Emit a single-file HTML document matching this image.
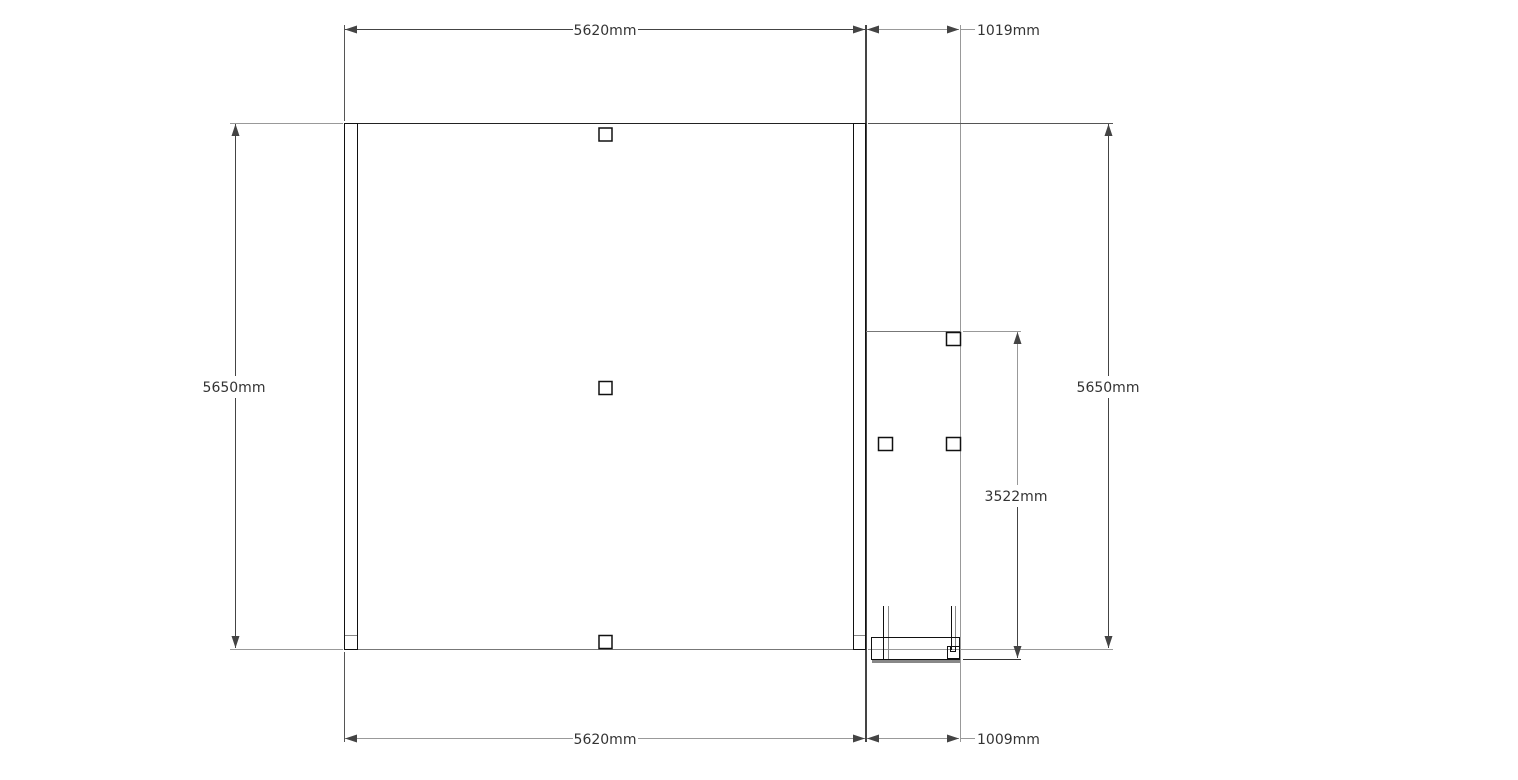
<!DOCTYPE html>
<html><head><meta charset="utf-8"><style>
html,body{margin:0;padding:0;background:#fff;width:1518px;height:780px;overflow:hidden}
text{font-family:"DejaVu Sans","Liberation Sans",sans-serif;font-size:14px;fill:#333}
</style></head><body>
<svg width="1518" height="780" xmlns="http://www.w3.org/2000/svg">
<defs>
<marker id="a" markerWidth="12" markerHeight="8" refX="12" refY="4" orient="auto-start-reverse" markerUnits="userSpaceOnUse"><path d="M0,0 L12,4 L0,8 z" fill="#444"/></marker>
</defs>
<g fill="none" stroke-width="1">
<!-- extension lines -->
<line x1="344.5" y1="25" x2="344.5" y2="121" stroke="#555"/>
<line x1="344.5" y1="652" x2="344.5" y2="742" stroke="#555"/>
<line x1="866" y1="25" x2="866" y2="742" stroke="#444" stroke-width="2"/>
<line x1="960.5" y1="25" x2="960.5" y2="742" stroke="#999"/>
<line x1="230" y1="123.5" x2="343" y2="123.5" stroke="#999"/>
<line x1="230" y1="649.5" x2="343" y2="649.5" stroke="#999"/>
<line x1="868" y1="123.5" x2="1113" y2="123.5" stroke="#555"/>
<line x1="868" y1="649.5" x2="1113" y2="649.5" stroke="#999"/>
<line x1="963" y1="331.5" x2="1021" y2="331.5" stroke="#999"/>
<line x1="963" y1="659.5" x2="1021" y2="659.5" stroke="#333"/>
<!-- dims -->
<line x1="345" y1="29.5" x2="573" y2="29.5" stroke="#444" marker-start="url(#a)"/>
<line x1="638" y1="29.5" x2="865" y2="29.5" stroke="#444" marker-end="url(#a)"/>
<line x1="867" y1="29.5" x2="959" y2="29.5" stroke="#999" marker-start="url(#a)" marker-end="url(#a)"/>
<line x1="961" y1="29.5" x2="975" y2="29.5" stroke="#999"/>
<line x1="345" y1="738.5" x2="573" y2="738.5" stroke="#999" marker-start="url(#a)"/>
<line x1="638" y1="738.5" x2="865" y2="738.5" stroke="#999" marker-end="url(#a)"/>
<line x1="867" y1="738.5" x2="959" y2="738.5" stroke="#999" marker-start="url(#a)" marker-end="url(#a)"/>
<line x1="961" y1="738.5" x2="975" y2="738.5" stroke="#999"/>
<line x1="235.5" y1="124" x2="235.5" y2="376" stroke="#444" marker-start="url(#a)"/>
<line x1="235.5" y1="398" x2="235.5" y2="648" stroke="#444" marker-end="url(#a)"/>
<line x1="1108.5" y1="124" x2="1108.5" y2="376" stroke="#444" marker-start="url(#a)"/>
<line x1="1108.5" y1="398" x2="1108.5" y2="648" stroke="#444" marker-end="url(#a)"/>
<line x1="1017.5" y1="332" x2="1017.5" y2="485" stroke="#999" marker-start="url(#a)"/>
<line x1="1017.5" y1="507" x2="1017.5" y2="658" stroke="#444" marker-end="url(#a)"/>
<!-- main room -->
<line x1="344" y1="123.5" x2="866" y2="123.5" stroke="#222"/>
<line x1="344" y1="649.5" x2="866" y2="649.5" stroke="#777"/>
<rect x="344.5" y="123.5" width="13" height="526" stroke="#111"/>
<line x1="345" y1="635.5" x2="357" y2="635.5" stroke="#888"/>
<rect x="853.5" y="123.5" width="12" height="526" stroke="#111"/>
<line x1="854" y1="635.5" x2="865" y2="635.5" stroke="#888"/>
<!-- right room -->
<line x1="866" y1="331.5" x2="960" y2="331.5" stroke="#777"/>
<!-- squares -->
<g stroke="#111" stroke-width="1.5">
<rect x="599" y="128" width="13" height="13"/>
<rect x="599" y="381.5" width="13" height="13"/>
<rect x="599" y="635.5" width="13" height="13"/>
<rect x="946.5" y="332.5" width="14" height="13"/>
<rect x="878.5" y="437.5" width="14" height="13"/>
<rect x="946.5" y="437.5" width="14" height="13"/>
</g>
<!-- fixture -->
<line x1="883.5" y1="606" x2="883.5" y2="660" stroke="#111"/>
<line x1="888.5" y1="606" x2="888.5" y2="660" stroke="#888"/>
<line x1="951.5" y1="606" x2="951.5" y2="650" stroke="#111"/>
<line x1="955.5" y1="606" x2="955.5" y2="650" stroke="#888"/>
<rect x="871.5" y="637.5" width="88" height="22" stroke="#111"/>
<rect x="947.5" y="646.5" width="12" height="12" stroke="#111"/>
<rect x="950.5" y="646.5" width="5" height="5" stroke="#111"/>
<rect x="872" y="660" width="88" height="3" fill="#888" stroke="none"/>
</g>
<text x="605" y="35" text-anchor="middle">5620mm</text>
<text x="977" y="35">1019mm</text>
<text x="605" y="744" text-anchor="middle">5620mm</text>
<text x="977" y="744">1009mm</text>
<text x="234" y="392" text-anchor="middle">5650mm</text>
<text x="1108" y="392" text-anchor="middle">5650mm</text>
<text x="1016" y="501" text-anchor="middle">3522mm</text>
</svg>
</body></html>
